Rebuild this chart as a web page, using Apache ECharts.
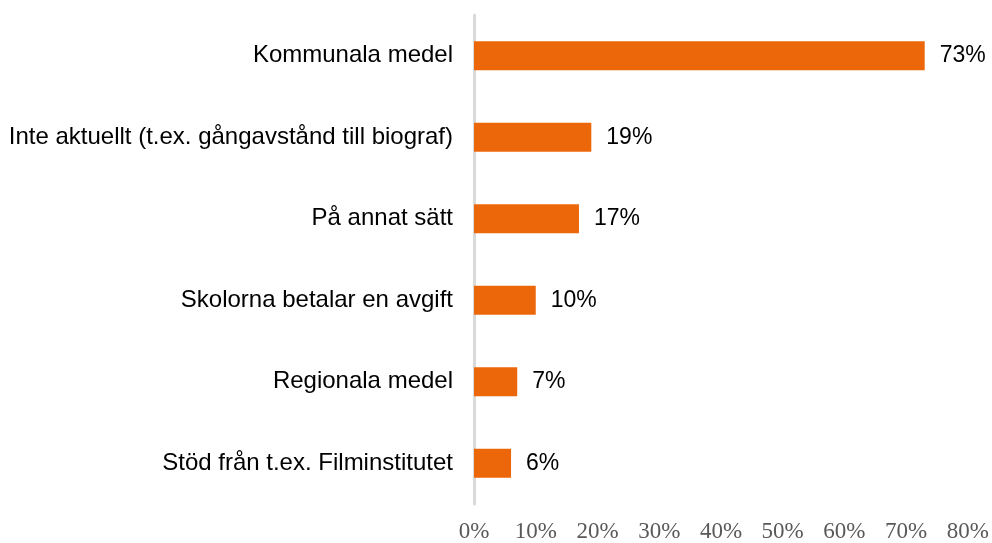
<!DOCTYPE html>
<html>
<head>
<meta charset="utf-8">
<script src="https://cdn.jsdelivr.net/npm/echarts@6/dist/echarts.min.js"></script>
<style>
  html, body { margin: 0; padding: 0; background: #fff; }
  #main { width: 992px; height: 543px; }
</style>
</head>
<body>
<div id="main"></div>
<script>
// kategorier, uppifrån och ned
var categories = [
    "Kommunala medel",
    "Inte aktuellt (t.ex. gångavstånd till biograf)",
    "På annat sätt",
    "Skolorna betalar en avgift",
    "Regionala medel",
    "Stöd från t.ex. Filminstitutet"
];
var values = [73, 19, 17, 10, 7, 6];
var tickLabels = ["0%", "10%", "20%", "30%", "40%", "50%", "60%", "70%", "80%"];

var myChart = echarts.init(document.getElementById('main'));

var option = {
    animation: false,
    grid: {
        left: 474,
        right: 24,
        top: 15,
        bottom: 39
    },
    xAxis: {
        type: 'value',
        min: 0,
        max: 80,
        interval: 10,
        axisLine: { show: false },
        axisTick: { show: false },
        splitLine: { show: false },
        axisLabel: {
            margin: 16,
            fontFamily: 'Liberation Serif',
            fontSize: 23,
            color: '#595959',
            formatter: function (v) { return tickLabels[v / 10]; }
        }
    },
    yAxis: {
        type: 'category',
        inverse: true,
        data: categories,
        axisLine: { show: true, lineStyle: { color: '#d9d9d9', width: 3 } },
        axisTick: { show: false },
        axisLabel: {
            margin: 21,
            padding: [4, 0, 0, 0],
            fontFamily: 'Liberation Sans',
            fontSize: 24,
            color: '#000'
        }
    },
    series: [
        {
            type: 'bar',
            data: values,
            barWidth: 29,
            itemStyle: { color: '#ec670a' },
            label: {
                show: true,
                position: 'right',
                distance: 15,
                padding: [4, 0, 0, 0],
                fontFamily: 'Liberation Sans',
                fontSize: 23,
                color: '#000',
                formatter: '{c}%'
            }
        }
    ]
};

myChart.setOption(option);
</script>
</body>
</html>
